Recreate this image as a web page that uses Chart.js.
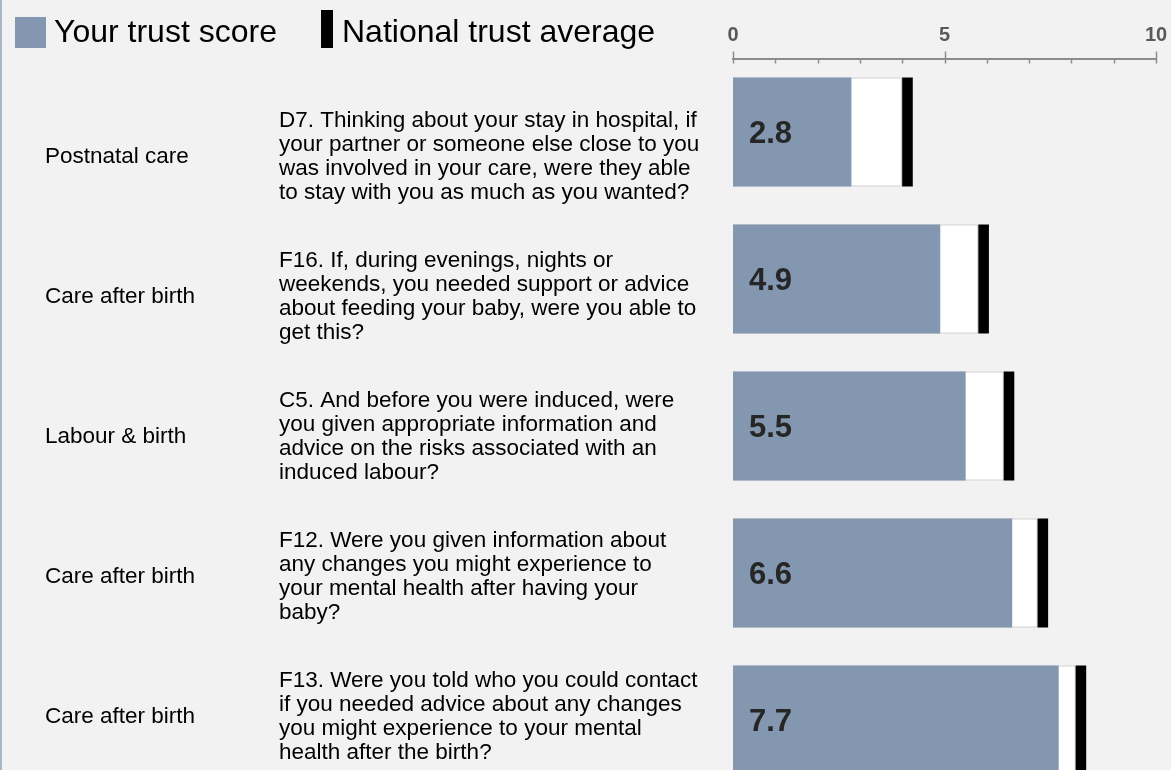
<!DOCTYPE html>
<html>
<head>
<meta charset="utf-8">
<script src="https://cdn.jsdelivr.net/npm/chart.js@4"></script>
<style>
    html, body {
        margin: 0;
        padding: 0;
        width: 1171px;
        height: 770px;
        overflow: hidden;
        background: #f2f2f2;
        font-family: 'Liberation Sans', Arial, sans-serif;
    }
    #page {
        position: relative;
        width: 1171px;
        height: 800px;
    }
    #leftRule {
        position: absolute;
        left: 0;
        top: 0;
        width: 2px;
        height: 800px;
        background: #a9b7cb;
        z-index: 2;
    }
    .legend-item {
        position: absolute;
        top: 12px;
        font-size: 32px;
        line-height: 38px;
        color: #000;
        white-space: nowrap;
        z-index: 2;
    }
    .swatch {
        position: absolute;
        z-index: 2;
    }
    #chartBox {
        position: absolute;
        left: 0;
        top: 0;
        width: 1171px;
        height: 800px;
    }
</style>
</head>
<body>
<div id="page">
    <div id="leftRule"></div>
    <div class="swatch" style="left:15px; top:17px; width:31px; height:31px; background:#8497b0;"></div>
    <div class="legend-item" style="left:54px;">Your trust score</div>
    <div class="swatch" style="left:321px; top:10px; width:12px; height:38px; background:#000;"></div>
    <div class="legend-item" style="left:342px;">National trust average</div>
    <div id="chartBox"><canvas id="trustChart"></canvas></div>
</div>

<script>
// survey sections (outer label column)
const sections = ['Postnatal care', 'Care after birth', 'Labour & birth', 'Care after birth', 'Care after birth'];

// question text, already broken into the lines shown
const questions = [
    ['D7. Thinking about your stay in hospital, if', 'your partner or someone else close to you', 'was involved in your care, were they able', 'to stay with you as much as you wanted?'],
    ['F16. If, during evenings, nights or', 'weekends, you needed support or advice', 'about feeding your baby, were you able to', 'get this?'],
    ['C5. And before you were induced, were', 'you given appropriate information and', 'advice on the risks associated with an', 'induced labour?'],
    ['F12. Were you given information about', 'any changes you might experience to', 'your mental health after having your', 'baby?'],
    ['F13. Were you told who you could contact', 'if you needed advice about any changes', 'you might experience to your mental', 'health after the birth?']
];

const trustScores = [2.8, 4.9, 5.5, 6.6, 7.7];
const nationalAverages = [4.0, 5.8, 6.4, 7.2, 8.1];

const labelledTicks = [0, 5, 10];

document.addEventListener('DOMContentLoaded', function () {
    const FONT = "'Liberation Sans', Arial, sans-serif";
    const MARKER = 0.25;   // width of the black national marker, in score units
    const AXIS_GREY = '#8c8c8c';

    const markerData = nationalAverages.map(v => [v, v + MARKER]);

    // small tick marks along the top axis
    const tickMarks = {
        id: 'tickMarks',
        afterDraw(chart) {
            const x = chart.scales.x;
            const top = chart.chartArea.top;
            const ctx = chart.ctx;
            ctx.save();
            ctx.strokeStyle = AXIS_GREY;
            ctx.lineWidth = 1.5;
            x.ticks.forEach(t => {
                const px = Math.round(x.getPixelForValue(t.value)) + 0.5;
                const major = labelledTicks.includes(t.value);
                ctx.beginPath();
                ctx.moveTo(px, major ? top - 7 : top);
                ctx.lineTo(px, top + 5);
                ctx.stroke();
            });
            ctx.restore();
        }
    };

    // score written inside each blue bar
    const scoreLabels = {
        id: 'scoreLabels',
        afterDatasetsDraw(chart) {
            const meta = chart.getDatasetMeta(0);
            const ctx = chart.ctx;
            ctx.save();
            ctx.font = 'bold 31px ' + FONT;
            ctx.fillStyle = '#262626';
            ctx.textAlign = 'left';
            ctx.textBaseline = 'middle';
            meta.data.forEach((bar, i) => {
                ctx.fillText(trustScores[i].toFixed(1), chart.chartArea.left + 16, bar.y + 2);
            });
            ctx.restore();
        }
    };

    const labelFont = { family: FONT, size: 22.5, lineHeight: '24px' };

    // text columns on the left: a linear scale per column, one tick per row.
    // the range is a bit tighter than the bars so the text sits like the original table
    function textColumn(texts, width, weight) {
        return {
            type: 'linear',
            position: 'left',
            weight: weight,
            reverse: true,
            offset: false,
            min: -0.7,
            max: 4.55,
            grid: { display: false, drawTicks: false },
            border: { display: false },
            ticks: {
                autoSkip: false,
                crossAlign: 'far',
                padding: 0,
                color: '#000',
                font: labelFont,
                callback: function (value) {
                    return texts[value];
                }
            },
            afterBuildTicks: function (scale) {
                scale.ticks = texts.map((t, i) => ({ value: i }));
            },
            afterFit: function (scale) {
                scale.width = width;
                scale.paddingTop = 0;
                scale.paddingBottom = 0;
            }
        };
    }

    new Chart(document.getElementById('trustChart'), {
        type: 'bar',
        data: {
            labels: sections,
            datasets: [
                {
                    label: 'Your trust score',
                    data: trustScores,
                    backgroundColor: '#8497b0',
                    borderWidth: 0,
                    order: 1
                },
                {
                    label: 'National trust average',
                    data: markerData,
                    backgroundColor: '#000000',
                    borderWidth: 0,
                    order: 0
                },
                {
                    label: 'National range',
                    data: nationalAverages,
                    backgroundColor: '#ffffff',
                    borderColor: '#b3b3b3',
                    borderWidth: 1,
                    order: 2
                }
            ]
        },
        options: {
            indexAxis: 'y',
            responsive: true,
            maintainAspectRatio: false,
            animation: false,
            datasets: {
                bar: {
                    grouped: false,
                    barPercentage: 0.742,
                    categoryPercentage: 1
                }
            },
            layout: {
                autoPadding: false,
                padding: { left: 45, right: 15, top: 0, bottom: 6.5 }
            },
            scales: {
                x: {
                    type: 'linear',
                    position: 'top',
                    min: 0,
                    max: 10,
                    grid: { display: false, drawTicks: false },
                    border: { display: true, color: AXIS_GREY, width: 2 },
                    ticks: {
                        stepSize: 1,
                        autoSkip: false,
                        maxRotation: 0,
                        padding: 11,
                        color: '#595959',
                        font: { family: FONT, size: 20, weight: 'bold' },
                        callback: function (value) {
                            return labelledTicks.includes(value) ? String(value) : '';
                        }
                    },
                    afterFit: function (scale) {
                        scale.height = 58.5;
                        scale.paddingLeft = 0;
                        scale.paddingRight = 0;
                    }
                },
                y: {
                    type: 'category',
                    display: false
                },
                yQuestion: textColumn(questions, 454, 1),
                ySection: textColumn(sections, 234, 2)
            },
            plugins: {
                legend: { display: false },
                tooltip: { enabled: false }
            }
        },
        plugins: [tickMarks, scoreLabels]
    });
});
</script>
</body>
</html>
